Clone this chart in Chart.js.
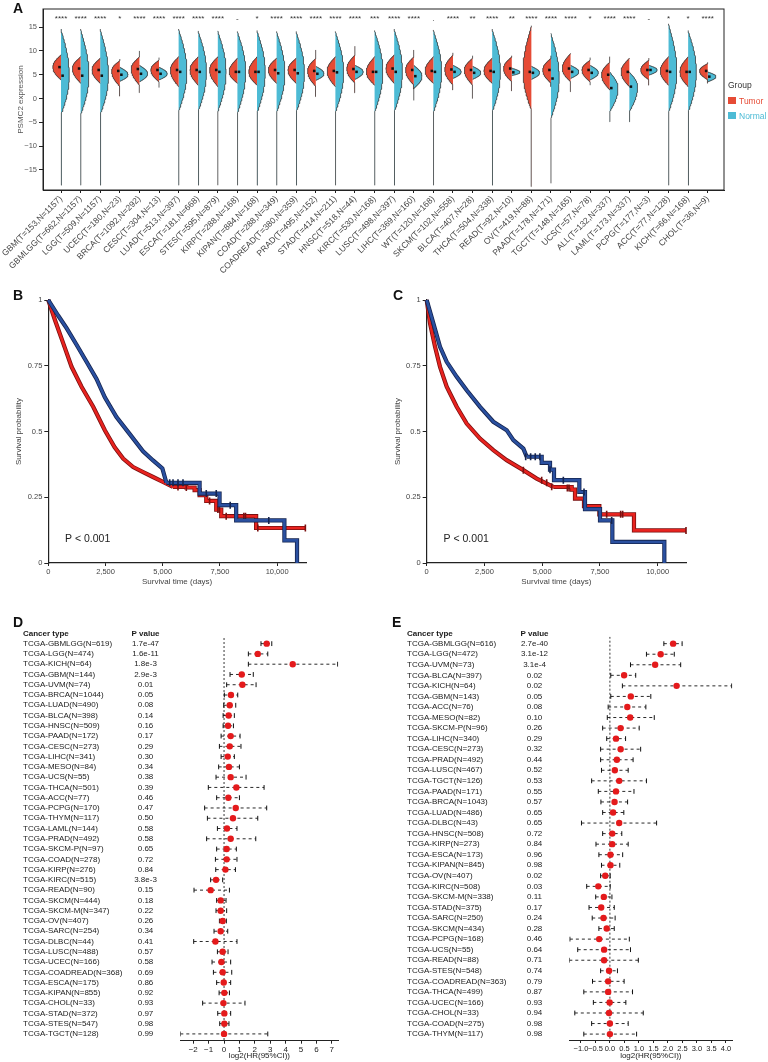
<!DOCTYPE html>
<html>
<head>
<meta charset="utf-8">
<title>PSMC2 pan-cancer expression and survival</title>
<script src="https://cdn.jsdelivr.net/npm/chart.js@4.4.1/dist/chart.umd.min.js"></script>
<style>
  html, body { margin: 0; padding: 0; background: #fff; }
  body { position: relative; width: 768px; height: 1062px; overflow: hidden; font-family: Arial, "Liberation Sans", sans-serif; }
  canvas { position: absolute; }
  .tag { position: absolute; font-size: 14px; font-weight: bold; line-height: 1; color: #111; }
  .leg { position: absolute; font-size: 8.5px; line-height: 1; white-space: nowrap; }
  .sw { position: absolute; width: 8px; height: 7px; }
</style>
</head>
<body>
<canvas id="violin" width="768" height="290" style="left:0;top:0"></canvas>
<canvas id="kmB" width="384" height="300" style="left:0;top:290px"></canvas>
<canvas id="kmC" width="388" height="300" style="left:380px;top:290px"></canvas>
<canvas id="forestD" width="384" height="452" style="left:0;top:610px"></canvas>
<canvas id="forestE" width="384" height="452" style="left:384px;top:610px"></canvas>

<div class="tag" style="left:13px;top:1px">A</div>
<div class="tag" style="left:13px;top:288px">B</div>
<div class="tag" style="left:393px;top:288px">C</div>
<div class="tag" style="left:13px;top:615px">D</div>
<div class="tag" style="left:392px;top:615px">E</div>

<div class="leg" style="left:728px;top:81px;color:#333">Group</div>
<div class="sw" style="left:728px;top:97px;background:#E64B35"></div>
<div class="leg" style="left:739px;top:97px;color:#E64B35">Tumor</div>
<div class="sw" style="left:728px;top:112px;background:#4DBBD5"></div>
<div class="leg" style="left:739px;top:112px;color:#4DBBD5">Normal</div>

<script>
// ---- panel A: PSMC2 expression, tumor vs normal ----
const violinLabels = ["GBM(T=153,N=1157)", "GBMLGG(T=662,N=1157)", "LGG(T=509,N=1157)", "UCEC(T=180,N=23)",
  "BRCA(T=1092,N=292)", "CESC(T=304,N=13)", "LUAD(T=513,N=397)", "ESCA(T=181,N=668)", "STES(T=595,N=879)",
  "KIRP(T=288,N=168)", "KIPAN(T=884,N=168)", "COAD(T=288,N=349)", "COADREAD(T=380,N=359)", "PRAD(T=495,N=152)",
  "STAD(T=414,N=211)", "HNSC(T=518,N=44)", "KIRC(T=530,N=168)", "LUSC(T=498,N=397)", "LIHC(T=369,N=160)",
  "WT(T=120,N=168)", "SKCM(T=102,N=558)", "BLCA(T=407,N=28)", "THCA(T=504,N=338)", "READ(T=92,N=10)",
  "OV(T=419,N=88)", "PAAD(T=178,N=171)", "TGCT(T=148,N=165)", "UCS(T=57,N=78)", "ALL(T=132,N=337)",
  "LAML(T=173,N=337)", "PCPG(T=177,N=3)", "ACC(T=77,N=128)", "KICH(T=66,N=168)", "CHOL(T=36,N=9)"];
const violinSig = ["****", "****", "****", "*", "****", "****", "****", "****", "****", "-", "*", "****", "****",
  "****", "****", "****", "***", "****", "****", ".", "****", "**", "****", "**", "****", "****", "****", "*",
  "****", "****", "-", "*", "*", "****"];

const tumorMid = [6.6, 6.3, 6.0, 5.8, 6.2, 6.0, 6.0, 6.0, 6.0, 5.6, 5.6, 6.0, 6.0, 5.8, 5.8, 6.2, 5.6, 6.3, 6.0,
  5.8, 6.1, 6.0, 5.8, 6.3, 5.6, 6.0, 6.3, 6.0, 5.0, 5.6, 6.0, 5.8, 5.6, 5.8];
const tumorBulgeLo = [3.9, 3.2, 3.2, 2.5, 2.8, 3.5, 2.5, 2.8, 2.5, 3.2, 2.8, 3.2, 3.2, 2.5, 2.5, 3.2, 2.8, 3.2,
  2.8, 3.2, 2.8, 2.8, 3.2, 3.5, -2.5, 3.2, 3.5, 3.5, 1.8, 2.5, 3.9, 2.8, 2.5, 3.9];
const tumorBulgeHi = [9.2, 8.8, 8.5, 8.0, 8.8, 8.1, 8.8, 8.8, 8.8, 8.5, 8.8, 8.5, 8.5, 8.5, 8.8, 9.2, 8.8, 9.2,
  8.8, 8.8, 9.2, 8.5, 8.5, 8.8, 15.3, 8.5, 9.5, 8.1, 7.7, 8.5, 8.1, 8.8, 8.8, 7.4];
const tumorTailLo = [3.9, 3.2, 3.2, 0.5, 1.2, 2.3, 2.5, 2.8, 2.5, 3.2, 2.8, 3.2, 3.2, 0.4, 2.5, 1.2, 2.8, 3.2,
  2.0, 3.2, 1.8, 0.0, 3.2, 1.6, -18.5, 2.5, 1.4, 2.8, 1.8, 2.5, 2.8, 2.8, 2.5, 3.2];
const tumorTailHi = [9.2, 8.8, 8.5, 8.3, 10.0, 8.6, 8.8, 8.8, 8.8, 8.5, 8.8, 8.5, 8.5, 10.2, 8.8, 11.0, 8.8, 9.2,
  10.2, 8.8, 9.6, 9.0, 8.5, 9.0, 15.3, 9.0, 9.5, 8.6, 8.8, 8.5, 8.5, 8.8, 8.8, 7.6];

const normalMid = [4.8, 4.8, 4.8, 5.0, 5.2, 5.2, 5.6, 5.6, 5.6, 5.6, 5.6, 5.3, 5.3, 5.2, 5.5, 5.6, 5.6, 5.6, 4.7,
  5.6, 5.6, 5.4, 5.6, 5.5, 5.4, 4.2, 5.6, 5.4, 2.2, 2.5, 6.0, 5.6, 5.6, 4.6];
const normalBulgeLo = [-3.5, -3.5, -3.5, 3.6, 3.5, 3.9, -2.8, -2.8, -2.8, -3.2, -3.2, -3.0, -3.0, 3.8, -3.0, 4.0,
  -3.0, -3.0, 2.1, -3.0, 4.2, 4.0, -3.0, 4.8, 4.0, -4.2, 4.2, 3.9, -2.8, -2.8, 4.9, -3.0, -3.0, 3.5];
const normalTop = [14.6, 14.6, 14.6, 6.6, 7.0, 6.6, 14.6, 14.2, 14.2, 14.1, 14.3, 14.1, 14.1, 6.8, 14.1, 7.0, 14.3,
  14.6, 7.0, 14.4, 7.0, 6.8, 14.6, 6.4, 6.8, 13.7, 7.0, 7.0, 5.6, 5.6, 7.0, 15.7, 14.3, 5.6];
const normalTailLo = [-18.2, -18.2, -18.2, 3.6, 3.5, 3.9, -18.2, -18.2, -18.2, -18.2, -18.2, -18.2, -18.2, 3.8,
  -18.2, 4.0, -18.2, -18.2, -0.4, -18.2, 4.2, 4.0, -18.2, 4.8, 4.0, -17.8, 4.2, 3.9, -4.9, -4.9, 4.9, -18.2, -18.2, 3.5];
const violinTicksY = [-15, -10, -5, 0, 5, 10, 15];

// ---- panels B, C: Kaplan-Meier curves ----
const kmTicksX = [0, 2500, 5000, 7500, 10000];
const kmTicksY = [0, 0.25, 0.5, 0.75, 1];

const bRedT = [0, 290, 654, 1017, 1453, 1962, 2470, 2900, 3270, 3706, 4141, 4577, 5013, 5449];
const bRedS = [1, 0.924, 0.835, 0.746, 0.67, 0.594, 0.505, 0.44, 0.397, 0.365, 0.346, 0.327, 0.308, 0.289];
const bRedTailT = [5449, 6030, 6393, 6611, 6902, 7338, 7556, 9081, 11232];
const bRedTailS = [0.289, 0.287, 0.277, 0.258, 0.236, 0.203, 0.178, 0.133, 0.133];
const bRedCensT = [5667, 6030, 7047, 7410, 7480, 7773, 8544, 8616, 9154, 11232];
const bRedCensS = [0.289, 0.287, 0.236, 0.203, 0.203, 0.178, 0.178, 0.178, 0.133, 0.133];
const bBlueT = [0, 436, 799, 1235, 1671, 2107, 2470, 2979, 3560, 4140, 4577, 4984, 5160];
const bBlueS = [1, 0.94, 0.893, 0.83, 0.765, 0.70, 0.63, 0.555, 0.49, 0.425, 0.39, 0.36, 0.305];
const bBlueTailT = [5160, 6611, 7483, 8209, 10316, 10868];
const bBlueTailS = [0.305, 0.264, 0.22, 0.162, 0.086, 0];
const bBlueCensT = [5304, 5449, 5667, 5885, 6902, 7338, 7948, 9634];
const bBlueCensS = [0.305, 0.305, 0.305, 0.305, 0.264, 0.264, 0.22, 0.162];

const cRedT = [0, 144, 361, 577, 866, 1299, 1732, 2309, 2886, 3463, 4185, 4762, 5483];
const cRedS = [1, 0.911, 0.822, 0.746, 0.67, 0.594, 0.53, 0.473, 0.429, 0.391, 0.353, 0.321, 0.289];
const cRedTailT = [5483, 6277, 6421, 6811, 7475, 8975, 11227];
const cRedTailS = [0.289, 0.279, 0.245, 0.216, 0.185, 0.124, 0.124];
const cRedCensT = [4185, 4978, 5195, 5411, 6089, 6162, 7792, 8398, 8485, 11227];
const cRedCensS = [0.353, 0.315, 0.305, 0.29, 0.285, 0.285, 0.185, 0.185, 0.185, 0.124];
const cBlueT = [0, 289, 577, 866, 1299, 1732, 2309, 2886, 3463, 3752, 4185, 4329];
const cBlueS = [1, 0.911, 0.822, 0.765, 0.708, 0.657, 0.594, 0.537, 0.505, 0.467, 0.435, 0.404];
const cBlueTailT = [4329, 4979, 5339, 5512, 6609, 6854, 7504, 8038, 10289];
const cBlueTailS = [0.404, 0.381, 0.355, 0.315, 0.27, 0.205, 0.162, 0.08, 0];
const cBlueCensT = [4286, 4500, 4700, 4900, 5339, 5916, 6811, 8010];
const cBlueCensS = [0.404, 0.404, 0.404, 0.404, 0.355, 0.315, 0.27, 0.162];

// ---- panel D: univariate Cox, forest ----
const dNames = ["TCGA-GBMLGG(N=619)", "TCGA-LGG(N=474)", "TCGA-KICH(N=64)", "TCGA-GBM(N=144)", "TCGA-UVM(N=74)",
  "TCGA-BRCA(N=1044)", "TCGA-LUAD(N=490)", "TCGA-BLCA(N=398)", "TCGA-HNSC(N=509)", "TCGA-PAAD(N=172)",
  "TCGA-CESC(N=273)", "TCGA-LIHC(N=341)", "TCGA-MESO(N=84)", "TCGA-UCS(N=55)", "TCGA-THCA(N=501)",
  "TCGA-ACC(N=77)", "TCGA-PCPG(N=170)", "TCGA-THYM(N=117)", "TCGA-LAML(N=144)", "TCGA-PRAD(N=492)",
  "TCGA-SKCM-P(N=97)", "TCGA-COAD(N=278)", "TCGA-KIRP(N=276)", "TCGA-KIRC(N=515)", "TCGA-READ(N=90)",
  "TCGA-SKCM(N=444)", "TCGA-SKCM-M(N=347)", "TCGA-OV(N=407)", "TCGA-SARC(N=254)", "TCGA-DLBC(N=44)",
  "TCGA-LUSC(N=488)", "TCGA-UCEC(N=166)", "TCGA-COADREAD(N=368)", "TCGA-ESCA(N=175)", "TCGA-KIPAN(N=855)",
  "TCGA-CHOL(N=33)", "TCGA-STAD(N=372)", "TCGA-STES(N=547)", "TCGA-TGCT(N=128)"];
const dPvals = ["1.7e-47", "1.6e-11", "1.8e-3", "2.9e-3", "0.01", "0.05", "0.08", "0.14", "0.16", "0.17", "0.29",
  "0.30", "0.34", "0.38", "0.39", "0.46", "0.47", "0.50", "0.58", "0.58", "0.65", "0.72", "0.84", "3.8e-3", "0.15",
  "0.18", "0.22", "0.26", "0.34", "0.41", "0.57", "0.58", "0.69", "0.86", "0.92", "0.93", "0.97", "0.98", "0.99"];
const dHR = [2.77, 2.19, 4.46, 1.15, 1.19, 0.45, 0.37, 0.30, 0.26, 0.43, 0.37, 0.24, 0.32, 0.43, 0.80, 0.28, 0.76,
  0.58, 0.19, 0.43, 0.17, 0.17, 0.09, -0.52, -0.87, -0.22, -0.22, -0.09, -0.22, -0.56, -0.09, -0.17, -0.09,
  -0.02, 0.02, -0.04, 0.02, 0.02, 0.0];
const dLo = [2.40, 1.58, 1.58, 0.39, 0.17, 0.02, -0.02, -0.06, -0.06, -0.19, -0.30, -0.19, -0.35, -0.52, -1.02,
  -0.48, -1.26, -1.08, -0.43, -1.13, -0.48, -0.56, -0.54, -0.87, -1.95, -0.48, -0.52, -0.30, -0.65, -1.97,
  -0.43, -0.78, -0.69, -0.48, -0.32, -1.39, -0.41, -0.28, -2.84];
const dHi = [3.10, 2.84, 7.38, 1.90, 2.08, 0.89, 0.76, 0.67, 0.61, 1.04, 1.10, 0.67, 1.00, 1.43, 2.60, 1.00, 2.77,
  2.19, 0.84, 2.06, 0.80, 0.84, 0.74, -0.09, 0.35, 0.13, 0.17, 0.15, 0.24, 0.84, 0.26, 0.43, 0.50, 0.43, 0.35,
  1.36, 0.43, 0.32, 2.84];
const dTicks = [-2, -1, 0, 1, 2, 3, 4, 5, 6, 7];

// ---- panel E: forest ----
const eNames = ["TCGA-GBMLGG(N=616)", "TCGA-LGG(N=472)", "TCGA-UVM(N=73)", "TCGA-BLCA(N=397)", "TCGA-KICH(N=64)",
  "TCGA-GBM(N=143)", "TCGA-ACC(N=76)", "TCGA-MESO(N=82)", "TCGA-SKCM-P(N=96)", "TCGA-LIHC(N=340)",
  "TCGA-CESC(N=273)", "TCGA-PRAD(N=492)", "TCGA-LUSC(N=467)", "TCGA-TGCT(N=126)", "TCGA-PAAD(N=171)",
  "TCGA-BRCA(N=1043)", "TCGA-LUAD(N=486)", "TCGA-DLBC(N=43)", "TCGA-HNSC(N=508)", "TCGA-KIRP(N=273)",
  "TCGA-ESCA(N=173)", "TCGA-KIPAN(N=845)", "TCGA-OV(N=407)", "TCGA-KIRC(N=508)", "TCGA-SKCM-M(N=338)",
  "TCGA-STAD(N=375)", "TCGA-SARC(N=250)", "TCGA-SKCM(N=434)", "TCGA-PCPG(N=168)", "TCGA-UCS(N=55)",
  "TCGA-READ(N=88)", "TCGA-STES(N=548)", "TCGA-COADREAD(N=363)", "TCGA-THCA(N=499)", "TCGA-UCEC(N=166)",
  "TCGA-CHOL(N=33)", "TCGA-COAD(N=275)", "TCGA-THYM(N=117)"];
const ePvals = ["2.7e-40", "3.1e-12", "3.1e-4", "0.02", "0.02", "0.05", "0.08", "0.10", "0.26", "0.29", "0.32",
  "0.44", "0.52", "0.53", "0.55", "0.57", "0.65", "0.65", "0.72", "0.84", "0.96", "0.98", "0.02", "0.03", "0.11",
  "0.17", "0.24", "0.28", "0.46", "0.64", "0.71", "0.74", "0.79", "0.87", "0.93", "0.94", "0.98", "0.98"];
const eHR = [2.18, 1.75, 1.56, 0.49, 2.30, 0.72, 0.60, 0.70, 0.37, 0.21, 0.37, 0.24, 0.17, 0.32, 0.21, 0.16, 0.11,
  0.32, 0.08, 0.08, 0.02, 0.02, -0.16, -0.40, -0.21, -0.30, -0.22, -0.11, -0.37, -0.20, -0.20, -0.03, -0.06,
  -0.06, -0.01, -0.03, 0.0, 0.0];
const eLo = [1.86, 1.26, 0.71, 0.03, 0.43, 0.03, -0.06, -0.09, -0.25, -0.11, -0.32, -0.32, -0.29, -0.63, -0.40,
  -0.31, -0.25, -0.98, -0.25, -0.48, -0.38, -0.29, -0.32, -0.80, -0.49, -0.72, -0.61, -0.38, -1.38, -1.11,
  -1.40, -0.32, -0.60, -0.90, -0.57, -1.21, -0.63, -0.90];
const eHi = [2.49, 2.22, 2.44, 0.89, 4.20, 1.41, 1.24, 1.53, 1.01, 0.54, 1.06, 0.80, 0.63, 1.26, 0.83, 0.61, 0.48,
  1.61, 0.41, 0.63, 0.44, 0.34, 0.01, 0.01, 0.07, 0.15, 0.18, 0.15, 0.67, 0.71, 0.98, 0.26, 0.49, 0.78, 0.55,
  1.15, 0.63, 0.92];
const eTicks = [-1, -0.5, 0, 0.5, 1, 1.5, 2, 2.5, 3, 3.5, 4];

// ---------------------------------------------------------------
const FONT = 'Arial, "Liberation Sans", sans-serif';
Chart.defaults.font.family = FONT;
Chart.defaults.color = "#333";
Chart.defaults.animation = false;
Chart.defaults.responsive = false;
Chart.defaults.plugins.legend.display = false;
Chart.defaults.plugins.tooltip.enabled = false;

const RED = "#E64B35";
const CYAN = "#4DBBD5";
const HALF_W = 0.42;
const minus = (s) => String(s).replace("-", "\u2212");

// outline of one half of a split violin, in data units
function halfViolin(i, side, mid, bLo, bHi, tLo, tHi) {
  const out = [{ x: i, y: tLo }, { x: i, y: bLo }];
  const n = 70;
  for (let k = 1; k < n; k++) {
    const y = bLo + ((bHi - bLo) * k) / n;
    const u = y < mid ? (mid - y) / (mid - bLo) : (y - mid) / (bHi - mid);
    const f = Math.pow(Math.max(0, 1 - u * u), 1.15);
    out.push({ x: i + side * HALF_W * f, y });
  }
  out.push({ x: i, y: bHi }, { x: i, y: tHi });
  return out;
}

// datasets with a lower `order` are painted on top
const violinSets = [];
violinLabels.forEach((_, i) => {
  const common = { showLine: true, fill: { value: i }, borderColor: "#222", borderWidth: 0.7, pointRadius: 0, order: 5 };
  violinSets.push({ ...common, backgroundColor: RED,
    data: halfViolin(i, -1, tumorMid[i], tumorBulgeLo[i], tumorBulgeHi[i], tumorTailLo[i], tumorTailHi[i]) });
  violinSets.push({ ...common, backgroundColor: CYAN,
    data: halfViolin(i, 1, normalMid[i], normalBulgeLo[i], normalTop[i], normalTailLo[i], normalTop[i]) });
});
violinSets.push({
  data: tumorMid.map((v, i) => ({ x: i - 0.08, y: v })), order: 1,
  pointStyle: "rect", pointRadius: 1.8, backgroundColor: "#111", borderWidth: 0,
});
violinSets.push({
  data: normalMid.map((v, i) => ({ x: i + 0.08, y: v })), order: 1,
  pointStyle: "rect", pointRadius: 1.8, backgroundColor: "#111", borderWidth: 0,
});

const framePlugin = {
  id: "frame",
  afterDatasetsDraw(chart) {
    const { ctx, chartArea: a } = chart;
    ctx.save();
    ctx.strokeStyle = "#222";
    ctx.lineWidth = 1;
    ctx.strokeRect(a.left, a.top, a.right - a.left, a.bottom - a.top);
    ctx.restore();
  },
};

const sigPlugin = {
  id: "sig",
  afterDraw(chart) {
    const { ctx, scales } = chart;
    ctx.save();
    ctx.fillStyle = "#333";
    ctx.font = "8px " + FONT;
    ctx.textAlign = "center";
    ctx.textBaseline = "alphabetic";
    violinSig.forEach((s, i) => {
      ctx.fillText(s, scales.x.getPixelForValue(i), scales.y.getPixelForValue(16.3));
    });
    ctx.restore();
  },
};

new Chart(document.getElementById("violin"), {
  type: "scatter",
  data: { datasets: violinSets },
  options: {
    indexAxis: "y",
    layout: { padding: { left: 14, right: 44, top: 9, bottom: 0 } },
    scales: {
      x: {
        type: "linear", min: -0.92, max: 33.83,
        afterBuildTicks: (s) => { s.ticks = violinLabels.map((_, i) => ({ value: i })); },
        afterFit: (s) => { s.height = 100; },
        grid: { drawOnChartArea: false, tickLength: 3, color: "#222" },
        border: { color: "#222" },
        ticks: { autoSkip: false, minRotation: 45, maxRotation: 45, padding: 1, color: "#444",
          font: { size: 8.5 }, callback: (v) => violinLabels[v] },
      },
      y: {
        type: "linear", min: -19.2, max: 18.8,
        afterBuildTicks: (s) => { s.ticks = violinTicksY.map((v) => ({ value: v })); },
        afterFit: (s) => { s.width = 29; },
        grid: { drawOnChartArea: false, tickLength: 4, color: "#222" },
        border: { color: "#222" },
        ticks: { padding: 2, color: "#555", font: { size: 7.5 }, callback: (v) => minus(v) },
        title: { display: true, text: "PSMC2 expression", color: "#555", font: { size: 8 }, padding: { top: 2, bottom: 0 } },
      },
    },
  },
  plugins: [framePlugin, sigPlugin],
});

// ---------------------------------------------------------------
function pts(ts, ss) { return ts.map((t, k) => ({ x: t, y: ss[k] })); }

function kmChart(id, xMax, padLeft, padRight, curves) {
  const datasets = [];
  curves.forEach((c, ci) => {
    const base = 10 - ci * 4;
    [[c.t, c.s, false], [c.tailT, c.tailS, "before"]].forEach(([t, s, step]) => {
      datasets.push({ data: pts(t, s), showLine: true, stepped: step, borderColor: c.dark, borderWidth: 4.2,
        pointRadius: 0, clip: 6, order: base + 2 });
      datasets.push({ data: pts(t, s), showLine: true, stepped: step, borderColor: c.color, borderWidth: 2.6,
        pointRadius: 0, clip: 6, order: base + 1 });
    });
    datasets.push({ data: pts(c.censT, c.censS), pointStyle: "line", pointRotation: 90, pointRadius: 3.5,
      borderColor: c.dark, borderWidth: 1.6, clip: 6, order: base });
  });
  const pPlugin = {
    id: "pval",
    afterDraw(chart) {
      const { ctx, scales } = chart;
      ctx.save();
      ctx.fillStyle = "#222";
      ctx.font = "10.5px " + FONT;
      ctx.textBaseline = "middle";
      ctx.fillText("P < 0.001", scales.x.getPixelForValue(730), scales.y.getPixelForValue(0.09));
      ctx.restore();
    },
  };
  new Chart(document.getElementById(id), {
    type: "scatter",
    data: { datasets },
    options: {
      layout: { padding: { left: padLeft, right: padRight, top: 10, bottom: 3 } },
      scales: {
        x: {
          type: "linear", min: 0, max: xMax,
          afterBuildTicks: (s) => { s.ticks = kmTicksX.map((v) => ({ value: v })); },
          afterFit: (s) => { s.height = 24; },
          grid: { drawOnChartArea: false, tickLength: 3, color: "#222" },
          border: { color: "#222", width: 1.2 },
          ticks: { padding: 1, color: "#444", font: { size: 7.5 }, callback: (v) => v.toLocaleString("en-US") },
          title: { display: true, text: "Survival time (days)", color: "#444", font: { size: 8 }, padding: { top: 0, bottom: 0 } },
        },
        y: {
          type: "linear", min: 0, max: 1,
          afterBuildTicks: (s) => { s.ticks = kmTicksY.map((v) => ({ value: v })); },
          afterFit: (s) => { s.width = 36; },
          grid: { drawOnChartArea: false, tickLength: 4, color: "#222" },
          border: { color: "#222", width: 1.2 },
          ticks: { padding: 2, color: "#444", font: { size: 7.5 }, callback: (v) => String(v) },
          title: { display: true, text: "Survival probability", color: "#444", font: { size: 8 }, padding: { top: 2, bottom: 0 } },
        },
      },
    },
    plugins: [pPlugin],
  });
}

kmChart("kmB", 11260, 12.3, 78, [
  { t: bRedT, s: bRedS, tailT: bRedTailT, tailS: bRedTailS, censT: bRedCensT, censS: bRedCensS, color: "#E8231F", dark: "#7a1010" },
  { t: bBlueT, s: bBlueS, tailT: bBlueTailT, tailS: bBlueTailS, censT: bBlueCensT, censS: bBlueCensS, color: "#2A50A0", dark: "#15244f" },
]);
kmChart("kmC", 11227, 10.7, 82, [
  { t: cRedT, s: cRedS, tailT: cRedTailT, tailS: cRedTailS, censT: cRedCensT, censS: cRedCensS, color: "#E8231F", dark: "#7a1010" },
  { t: cBlueT, s: cBlueS, tailT: cBlueTailT, tailS: cBlueTailS, censT: cBlueCensT, censS: cBlueCensS, color: "#2A50A0", dark: "#15244f" },
]);

// ---------------------------------------------------------------
function forestChart(id, o) {
  const ciData = [];
  const caps = [];
  o.lo.forEach((l, i) => {
    ciData.push({ x: l, y: i }, { x: o.hi[i], y: i }, { x: l, y: null });
    caps.push({ x: l, y: i }, { x: o.hi[i], y: i });
  });
  const tablePlugin = {
    id: "table",
    afterDraw(chart) {
      const { ctx, scales } = chart;
      const y = scales.y;
      ctx.save();
      ctx.fillStyle = "#1a1a1a";
      ctx.textBaseline = "middle";
      ctx.font = "bold 8px " + FONT;
      ctx.textAlign = "left";
      ctx.fillText("Cancer type", o.nameX, y.getPixelForValue(-0.93));
      ctx.textAlign = "center";
      ctx.fillText("P value", o.pX, y.getPixelForValue(-0.93));
      ctx.font = "8px " + FONT;
      o.names.forEach((n, i) => {
        ctx.textAlign = "left";
        ctx.fillText(n, o.nameX, y.getPixelForValue(i));
        ctx.textAlign = "center";
        ctx.fillText(o.pvals[i], o.pX, y.getPixelForValue(i));
      });
      ctx.restore();
    },
  };
  new Chart(document.getElementById(id), {
    type: "scatter",
    data: {
      datasets: [
        { data: [{ x: 0, y: o.yMin }, { x: 0, y: o.yMax }], showLine: true, borderDash: [2, 2], borderColor: "#222",
          borderWidth: 0.9, pointRadius: 0, order: 4 },
        { data: ciData, showLine: true, spanGaps: false, borderDash: [3, 3], borderColor: "#111", borderWidth: 0.9,
          pointRadius: 0, order: 3 },
        { data: caps, pointStyle: "line", pointRotation: 90, pointRadius: 2.4, borderColor: "#111", borderWidth: 1, order: 2 },
        { data: o.hr.map((v, i) => ({ x: v, y: i })), pointRadius: 3.2, backgroundColor: "#E41A1C", borderWidth: 0, order: 1 },
      ],
    },
    options: {
      layout: { padding: { left: o.left, right: o.right, top: o.top, bottom: 0 } },
      scales: {
        x: {
          type: "linear", min: o.xMin, max: o.xMax,
          afterBuildTicks: (s) => { s.ticks = o.ticks.map((v) => ({ value: v })); },
          afterFit: (s) => { s.height = o.axisH; },
          grid: { drawOnChartArea: false, tickLength: 3, color: "#222" },
          border: { color: "#222" },
          ticks: { autoSkip: false, minRotation: 0, maxRotation: 0, padding: 1, color: "#222",
            font: { size: o.tickSize }, callback: o.fmt },
          title: { display: true, text: "log2(HR(95%CI))", color: "#222", font: { size: 8 }, padding: { top: 0, bottom: 1 } },
        },
        y: { type: "linear", display: false, reverse: true, min: o.yMin, max: o.yMax },
      },
    },
    plugins: [tablePlugin],
  });
}

forestChart("forestD", {
  names: dNames, pvals: dPvals, hr: dHR, lo: dLo, hi: dHi, ticks: dTicks,
  xMin: -2.84, xMax: 7.42, yMin: -0.55, yMax: 38.66,
  left: 180.3, right: 45.7, top: 28, axisH: 21.3, nameX: 23, pX: 145.5, tickSize: 8,
  fmt: (v) => minus(v),
});
forestChart("forestE", {
  names: eNames, pvals: ePvals, hr: eHR, lo: eLo, hi: eHi, ticks: eTicks,
  xMin: -1.40, xMax: 4.22, yMin: -0.66, yMax: 37.56,
  left: 185.3, right: 35.7, top: 26.7, axisH: 22, nameX: 23, pX: 150.5, tickSize: 7.5,
  fmt: (v) => minus(v.toFixed(1)),
});
</script>
</body>
</html>
